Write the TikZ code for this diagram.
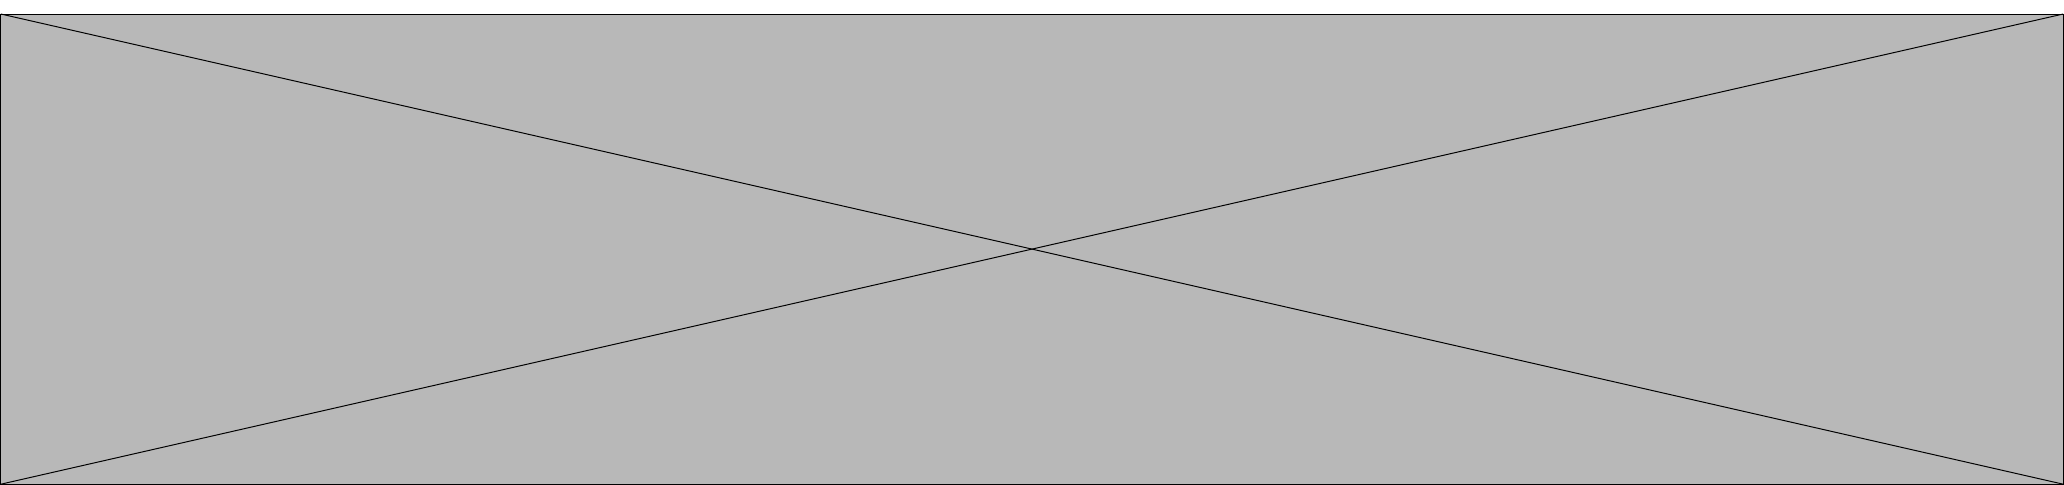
\documentclass[tikz,border=0pt]{standalone}
\definecolor{phgray}{HTML}{B8B8B8}
\begin{document}
\begin{tikzpicture}[x=0.01cm,y=-0.01cm,
  frame/.style={draw=black,fill=phgray,line width=0.28pt},
  diag/.style={draw=black,line width=0.28pt}]
\useasboundingbox[fill=white] (0,0) rectangle (2064,485);
\coordinate (tl) at (0.8,14);
\coordinate (tr) at (2063.2,14);
\coordinate (bl) at (0.8,484.2);
\coordinate (br) at (2063.2,484.2);
\path[frame] (tl) rectangle (br);
\draw[diag] (tl) -- (br);
\draw[diag] (bl) -- (tr);
\end{tikzpicture}
\end{document}
